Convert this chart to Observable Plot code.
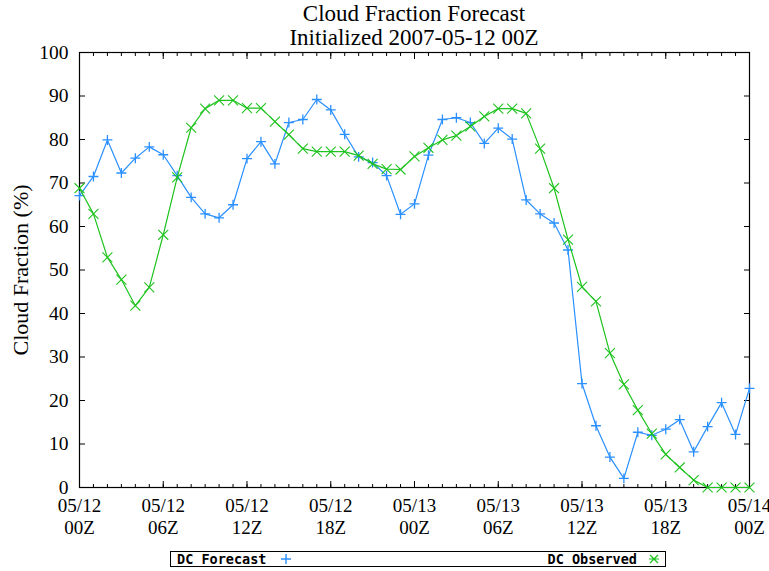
<!DOCTYPE html>
<html>
<head>
<meta charset="utf-8">
<script src="https://cdn.jsdelivr.net/npm/d3@7"></script>
<script src="https://cdn.jsdelivr.net/npm/@observablehq/plot@0.6"></script>
<style>
  html, body { margin: 0; padding: 0; background: #fff; }
  #wrap { position: relative; width: 769px; height: 571px; background: #fff; overflow: hidden; }
  #chart { position: absolute; left: 0; top: 0; }
  #chart svg { overflow: visible; }
  #title { position: absolute; left: 79px; top: 2px; width: 670px; text-align: center;
           font-family: "Liberation Serif", "Times New Roman", serif; font-size: 23px; line-height: 24px; color: #000; }
  #ylabel { position: absolute; left: -79px; top: 258px; width: 200px; height: 24px; line-height: 24px; text-align: center;
            font-family: "Liberation Serif", "Times New Roman", serif; font-size: 22px; color: #000; transform: rotate(-90deg); }
  #legend { position: absolute; left: 170px; top: 551px; width: 494px; height: 14px; border: 1.5px solid #000;
            font-family: "DejaVu Sans Mono", monospace; font-weight: bold; font-size: 13.5px; line-height: 15px; color: #000; }
  #legend span, #legend svg { position: absolute; }
</style>
</head>
<body>
<div id="wrap">
  <div id="chart"></div>
  <div id="title"></div>
  <div id="ylabel"></div>
  <div id="legend"></div>
</div>
<script>
// ---- data ----
const titleLines = ["Cloud Fraction Forecast", "Initialized 2007-05-12 00Z"];
const yLabel = "Cloud Fraction (%)";
const seriesNames = ["DC Forecast", "DC Observed"];
const seriesColors = ["#2a90ff", "#1ec31e"];

// forecast hour since initialization
const hours = [0,1,2,3,4,5,6,7,8,9,10,11,12,13,14,15,16,17,18,19,20,21,22,23,24,
               25,26,27,28,29,30,31,32,33,34,35,36,37,38,39,40,41,42,43,44,45,46,47,48];
const forecast = [67.1,71.5,79.9,72.3,75.7,78.3,76.5,71.7,66.7,62.9,62.0,65.0,75.6,79.5,74.4,83.9,84.6,89.2,86.8,81.2,76.0,74.7,71.7,62.8,65.2,
                  76.4,84.6,85.0,83.9,79.1,82.6,80.1,66.1,62.9,60.8,54.6,23.9,14.2,7.0,2.1,12.7,12.0,13.4,15.6,8.2,14.0,19.5,12.2,22.8];
const observed = [68.8,62.9,52.9,47.8,41.8,46.0,58.1,71.3,82.7,87.1,89.0,89.0,87.2,87.2,84.1,81.1,77.9,77.2,77.2,77.2,76.3,74.4,73.2,73.1,76.1,
                  78.1,79.9,80.9,83.0,85.3,87.1,87.1,86.0,77.9,68.8,57.0,46.1,42.8,30.9,23.7,17.8,12.4,7.6,4.6,1.7,0,0,0,0];

const yTicks = [0,10,20,30,40,50,60,70,80,90,100];
const xLabelHours = [0,6,12,18,24,30,36,42,48];
const xLabelDates = ["05/12","05/12","05/12","05/12","05/13","05/13","05/13","05/13","05/14"];
const xLabelZ = ["00Z","06Z","12Z","18Z","00Z","06Z","12Z","18Z","00Z"];

// ---- table ----
const data = hours.map((h, i) => ({h, f: forecast[i], o: observed[i]}));
const none = () => "";

const chart = Plot.plot({
  width: 769,
  height: 571,
  marginLeft: 79,
  marginRight: 20,
  marginTop: 52,
  marginBottom: 84,
  x: {domain: [0, 48]},
  y: {domain: [0, 100]},
  style: {fontFamily: "'Liberation Serif', 'Times New Roman', serif", fontSize: "19px", color: "#000", background: "transparent"},
  marks: [
    // labels
    Plot.axisY(yTicks, {anchor: "left", tickSize: 0, tickPadding: 11, label: null, fontSize: 19.5}),
    Plot.axisX(xLabelHours, {anchor: "bottom", tickSize: 0, tickPadding: 9, label: null, fontSize: 19, lineHeight: 1.14,
      tickFormat: d => { const i = xLabelHours.indexOf(d); return xLabelDates[i] + "\n" + xLabelZ[i]; }}),
    // inward ticks
    Plot.axisY(yTicks, {anchor: "left", tickSize: -6, tickFormat: none, label: null}),
    Plot.axisY(yTicks, {anchor: "right", tickSize: -6, tickFormat: none, label: null}),
    Plot.axisX(hours, {anchor: "bottom", tickSize: -3, tickFormat: none, label: null}),
    Plot.axisX(hours, {anchor: "top", tickSize: -3, tickFormat: none, label: null}),
    Plot.axisX(xLabelHours, {anchor: "bottom", tickSize: -6, tickFormat: none, label: null}),
    Plot.axisX(xLabelHours, {anchor: "top", tickSize: -6, tickFormat: none, label: null}),
    Plot.frame({stroke: "#000", strokeWidth: 1.2}),
    // series
    Plot.line(data, {x: "h", y: "f", stroke: seriesColors[0], strokeWidth: 1.2}),
    Plot.dot(data, {x: "h", y: "f", symbol: d3.symbolPlus, r: 3.3, stroke: seriesColors[0], strokeWidth: 1.3}),
    Plot.line(data, {x: "h", y: "o", stroke: seriesColors[1], strokeWidth: 1.2}),
    Plot.dot(data, {x: "h", y: "o", symbol: d3.symbolTimes, r: 4.6, stroke: seriesColors[1], strokeWidth: 1.1})
  ]
});
document.getElementById("chart").appendChild(chart);

document.getElementById("title").innerHTML = titleLines.join("<br>");
document.getElementById("ylabel").textContent = yLabel;

const legend = document.getElementById("legend");
legend.innerHTML =
  `<span style="left:6px;top:0">${seriesNames[0]}</span>` +
  `<svg style="left:109px;top:1px" width="12" height="12"><path d="M1,6H11M6,1V11" stroke="${seriesColors[0]}" stroke-width="1.4" fill="none"/></svg>` +
  `<span style="right:28px;top:0">${seriesNames[1]}</span>` +
  `<svg style="left:477px;top:1px" width="12" height="12"><path d="M2,2L10,10M10,2L2,10M1,6H11" stroke="${seriesColors[1]}" stroke-width="1.2" fill="none"/></svg>`;
</script>
</body>
</html>
